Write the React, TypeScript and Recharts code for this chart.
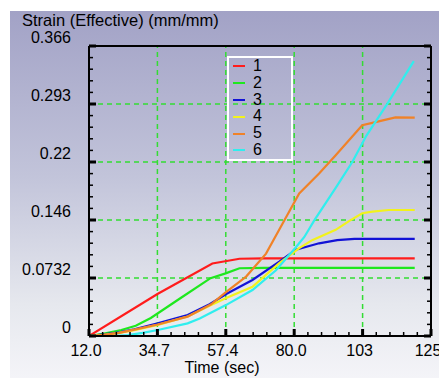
import React from 'react';
import { LineChart, Line, XAxis, YAxis, ReferenceLine, Legend } from 'recharts';

const FONT = '"Liberation Sans", Arial, Helvetica, sans-serif';

// Axis ticks and labels
const xMajor = [12, 34.68, 57.36, 80.04, 102.72, 125.4];
const xLabels = ['12.0', '34.7', '57.4', '80.0', '103', '125'];
const yMajor = [0, 0.0732, 0.1464, 0.2196, 0.2928, 0.366];
const yLabels = ['0', '0.0732', '0.146', '0.22', '0.293', '0.366'];

// Series
const seriesNames = ['1', '2', '3', '4', '5', '6'];
const seriesColors = ['#ff1c1c', '#1ee81e', '#1212d6', '#f2f21c', '#f08228', '#30eeee'];

const s1 = [[12, 0], [34.7, 0.053], [52.9, 0.0915], [56.7, 0.094], [61.9, 0.0975], [70, 0.098], [120, 0.098]];
const s2 = [[12, 0], [17, 0.003], [22.7, 0.0076], [27.5, 0.013], [32.5, 0.0227], [42.4, 0.048], [52.3, 0.073], [57.3, 0.079], [61.9, 0.0855], [70, 0.086], [120, 0.086]];
const s3 = [[12, 0], [17, 0.002], [22, 0.0045], [27, 0.0085], [34.8, 0.016], [44.7, 0.0265], [52, 0.04], [57.5, 0.053], [66.2, 0.0707], [75.1, 0.0938], [80.6, 0.109], [88.3, 0.117], [94.3, 0.121], [100, 0.1225], [120, 0.1225]];
const s4 = [[12, 0], [17, 0.0015], [22, 0.004], [27, 0.0075], [34.8, 0.014], [44.7, 0.0246], [52.5, 0.039], [57.5, 0.048], [66.2, 0.062], [75.1, 0.092], [81.7, 0.111], [86, 0.121], [93.8, 0.134], [98.2, 0.145], [102.6, 0.155], [106, 0.157], [111.4, 0.159], [120, 0.159]];
const s5 = [[12, 0], [17, 0.0015], [22, 0.004], [27, 0.008], [34.8, 0.0145], [44.7, 0.0244], [52.5, 0.04], [57.3, 0.055], [64.1, 0.075], [70.7, 0.104], [76.2, 0.142], [81.7, 0.18], [88.3, 0.205], [93.8, 0.228], [98.2, 0.247], [102.6, 0.266], [107, 0.27], [113.6, 0.276], [120, 0.2755]];
const s6 = [[12, 0], [20, 0], [24.9, 0.001], [29.8, 0.004], [34.8, 0.0076], [44.7, 0.016], [48.7, 0.022], [57.4, 0.039], [66.2, 0.058], [74, 0.083], [80.6, 0.112], [83.4, 0.125], [86.7, 0.146], [93.8, 0.187], [99.3, 0.2196], [104, 0.253], [110.9, 0.293], [119.7, 0.347]];

const allSeries = [s1, s2, s3, s4, s5, s6];

const toData = (pts: number[][]) => pts.map(([t, v]) => ({ t, v }));

const withMinors = (major: number[]) => {
  const out: number[] = [];
  for (let i = 0; i < major.length; i++) {
    out.push(major[i]);
    if (i < major.length - 1) {
      for (let k = 1; k < 5; k++) out.push(major[i] + ((major[i + 1] - major[i]) * k) / 5);
    }
  }
  return out;
};

const majorIndex = (arr: number[], v: number) => arr.findIndex((m) => Math.abs(m - v) < 1e-6);

const xTicks = withMinors(xMajor);
const yTicks = withMinors(yMajor);

const BottomTick = (p: any) => {
  const { x, y, payload } = p;
  const mi = majorIndex(xMajor, payload.value);
  const major = mi >= 0;
  return (
    <g>
      <line x1={x} x2={x} y1={y} y2={y - (major ? 7 : 4)} stroke="#000" strokeWidth={major ? 3 : 1.5} />
      {major && (
        <text x={x - 3} y={y + 20} textAnchor="middle" fontSize={16} fontFamily={FONT} fill="#000">
          {xLabels[mi]}
        </text>
      )}
    </g>
  );
};

const TopTick = (p: any) => {
  const { x, y, payload } = p;
  const major = majorIndex(xMajor, payload.value) >= 0;
  return <line x1={x} x2={x} y1={y} y2={y + (major ? 7 : 4)} stroke="#000" strokeWidth={major ? 3 : 1.5} />;
};

const LeftTick = (p: any) => {
  const { x, y, payload } = p;
  const mi = majorIndex(yMajor, payload.value);
  const major = mi >= 0;
  return (
    <g>
      <line x1={x} x2={x + (major ? 7 : 4)} y1={y} y2={y} stroke="#000" strokeWidth={major ? 3 : 1.5} />
      {major && (
        <text x={x - 18} y={y - 3} textAnchor="end" fontSize={16} fontFamily={FONT} fill="#000">
          {yLabels[mi]}
        </text>
      )}
    </g>
  );
};

const RightTick = (p: any) => {
  const { x, y, payload } = p;
  const major = majorIndex(yMajor, payload.value) >= 0;
  return <line x1={x} x2={x - (major ? 7 : 4)} y1={y} y2={y} stroke="#000" strokeWidth={major ? 3 : 1.5} />;
};

const renderLegend = () => (
  <div
    style={{
      border: '2px solid #fff',
      width: 62,
      boxSizing: 'content-box',
      fontFamily: FONT,
      fontSize: 16,
      color: '#000',
    }}
  >
    {seriesNames.map((n, i) => (
      <div key={n} style={{ height: 16.8, display: 'flex', alignItems: 'center' }}>
        <span style={{ display: 'inline-block', width: 12, height: 2, background: seriesColors[i], marginLeft: 4, marginRight: 8 }} />
        <span style={{ lineHeight: '16.8px' }}>{n}</span>
      </div>
    ))}
  </div>
);

const gridStyle = { stroke: '#33dd33', strokeDasharray: '5 4', strokeWidth: 1.5 };

export default function App() {
  return (
    <div style={{ position: 'absolute', left: 0, top: 0, width: 439, height: 378, background: '#fff', overflow: 'hidden' }}>
      <div
        style={{
          position: 'absolute',
          left: 10,
          top: 11,
          width: 429,
          height: 367,
          background: 'linear-gradient(to bottom, #a2a2c6 0%, #c2c4da 45%, #e6e8ee 80%, #f4f4f8 100%)',
        }}
      />
      <div style={{ position: 'absolute', left: 0, top: 0 }}>
        <LineChart width={439} height={378} margin={{ top: 0, right: 0, bottom: 0, left: 0 }}>
          <XAxis
            xAxisId="b"
            orientation="bottom"
            type="number"
            dataKey="t"
            domain={[12, 125.4]}
            allowDataOverflow
            ticks={xTicks}
            interval={0}
            height={42}
            tickSize={0}
            tickMargin={0}
            tickLine={false}
            tick={BottomTick}
            axisLine={{ stroke: '#000', strokeWidth: 2 }}
            label={{
              content: () => (
                <text x={222} y={373} textAnchor="middle" fontSize={16} fontFamily={FONT} fill="#000">
                  Time (sec)
                </text>
              ),
            }}
          />
          <XAxis
            xAxisId="t"
            orientation="top"
            type="number"
            domain={[12, 125.4]}
            allowDataOverflow
            ticks={xTicks}
            interval={0}
            height={46}
            tickSize={0}
            tickMargin={0}
            tickLine={false}
            tick={TopTick}
            axisLine={{ stroke: '#000', strokeWidth: 2 }}
          />
          <YAxis
            yAxisId="l"
            orientation="left"
            type="number"
            domain={[0, 0.366]}
            allowDataOverflow
            ticks={yTicks}
            interval={0}
            width={89}
            tickSize={0}
            tickMargin={0}
            tickLine={false}
            tick={LeftTick}
            axisLine={{ stroke: '#000', strokeWidth: 2 }}
            label={{
              content: () => (
                <text x={22} y={26} textAnchor="start" fontSize={16.5} fontFamily={FONT} fill="#000">
                  Strain (Effective) (mm/mm)
                </text>
              ),
            }}
          />
          <YAxis
            yAxisId="r"
            orientation="right"
            type="number"
            domain={[0, 0.366]}
            allowDataOverflow
            ticks={yTicks}
            interval={0}
            width={8}
            tickSize={0}
            tickMargin={0}
            tickLine={false}
            tick={RightTick}
            axisLine={{ stroke: '#000', strokeWidth: 2 }}
          />
          {xMajor.slice(1, -1).map((v) => (
            <ReferenceLine key={'gx' + v} x={v} xAxisId="b" yAxisId="l" {...gridStyle} />
          ))}
          {yMajor.slice(1, -1).map((v) => (
            <ReferenceLine key={'gy' + v} y={v} xAxisId="b" yAxisId="l" {...gridStyle} />
          ))}
          {allSeries.map((s, i) => (
            <Line
              key={seriesNames[i]}
              xAxisId="b"
              yAxisId="l"
              data={toData(s)}
              dataKey="v"
              name={seriesNames[i]}
              type="linear"
              stroke={seriesColors[i]}
              strokeWidth={2.2}
              dot={false}
              activeDot={false}
              isAnimationActive={false}
            />
          ))}
          <Legend
            layout="vertical"
            align="center"
            verticalAlign="middle"
            wrapperStyle={{ left: 227, top: 56, width: 66, height: 105 }}
            content={renderLegend}
          />
        </LineChart>
      </div>
    </div>
  );
}
